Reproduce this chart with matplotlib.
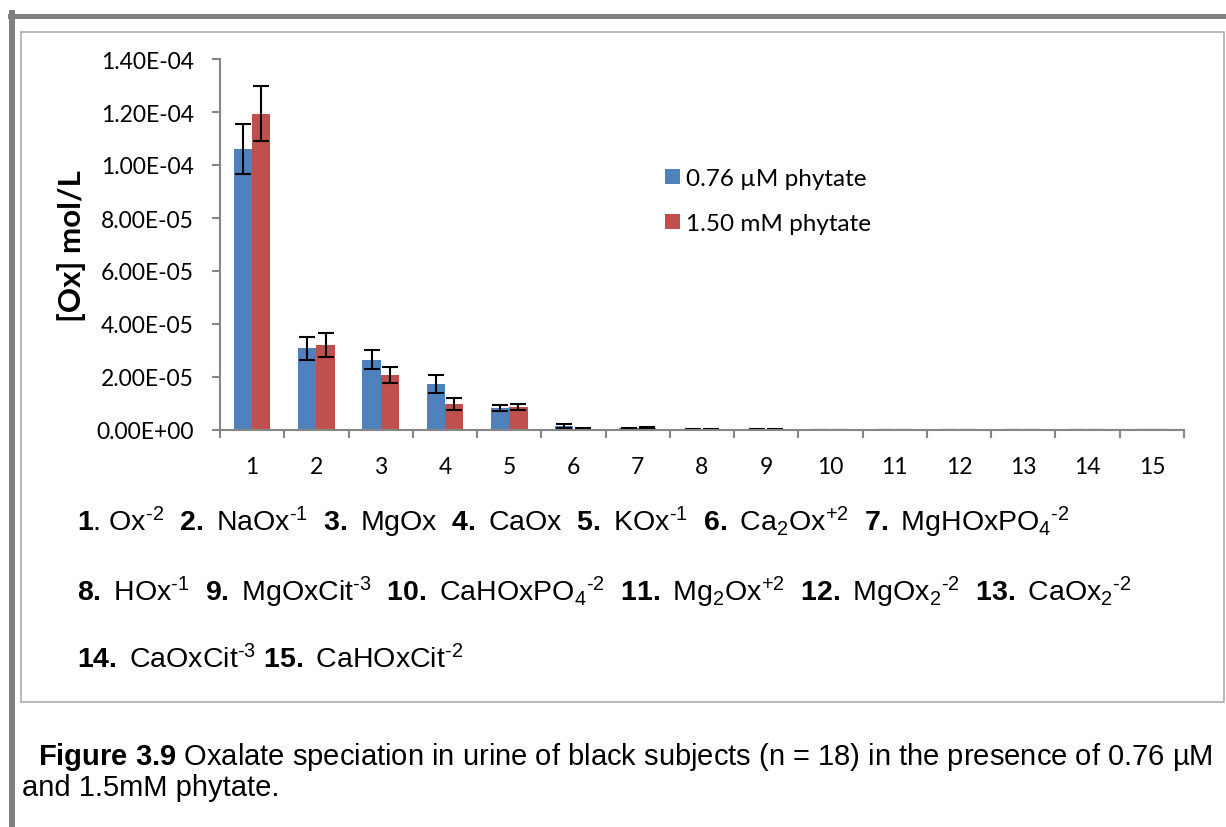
import matplotlib
matplotlib.use("Agg")
import matplotlib.pyplot as plt
import numpy as np
from matplotlib.lines import Line2D
from matplotlib.patches import Rectangle

# species index 1..15
species = [str(i) for i in range(1, 16)]

# 0.76 uM phytate
blue_vals = [1.06e-4, 3.08e-5, 2.66e-5, 1.73e-5, 8.3e-6, 1.5e-6, 6e-7, 2e-7,
             1.5e-7, 5e-8, 5e-8, 5e-8, 2e-8, 1e-8, 1e-8]
blue_err = [9.3e-6, 4.4e-6, 3.6e-6, 3.4e-6, 1.0e-6, 0.9e-6, 0.3e-6, 0.1e-6,
            0.1e-6, 0, 0, 0, 0, 0, 0]
# 1.50 mM phytate
red_vals = [1.194e-4, 3.2e-5, 2.06e-5, 9.8e-6, 8.7e-6, 4e-7, 8e-7, 2e-7,
            1.5e-7, 5e-8, 5e-8, 5e-8, 2e-8, 1e-8, 1e-8]
red_err = [1.03e-5, 4.6e-6, 3.0e-6, 2.2e-6, 1.0e-6, 0.4e-6, 0.3e-6, 0.1e-6,
           0.1e-6, 0, 0, 0, 0, 0, 0]

yticks = [0, 2e-5, 4e-5, 6e-5, 8e-5, 1e-4, 1.2e-4, 1.4e-4]
ytick_labels = ["0.00E+00", "2.00E-05", "4.00E-05", "6.00E-05", "8.00E-05",
                "1.00E-04", "1.20E-04", "1.40E-04"]

H_ = "\u2010"  # hyphen for charges
species_lines = [
    r"$\mathbf{1}$. Ox$^{%s2}$  $\mathbf{2.}$ NaOx$^{%s1}$  $\mathbf{3.}$ MgOx  $\mathbf{4.}$ CaOx  "
    r"$\mathbf{5.}$ KOx$^{%s1}$  $\mathbf{6.}$ Ca$_2$Ox$^{+2}$  $\mathbf{7.}$ MgHOxPO$_4$$^{%s2}$" % (H_, H_, H_, H_),
    r"$\mathbf{8.}$ HOx$^{%s1}$  $\mathbf{9.}$ MgOxCit$^{%s3}$  $\mathbf{10.}$ CaHOxPO$_4$$^{%s2}$  "
    r"$\mathbf{11.}$ Mg$_2$Ox$^{+2}$  $\mathbf{12.}$ MgOx$_2$$^{%s2}$  $\mathbf{13.}$ CaOx$_2$$^{%s2}$" % (H_, H_, H_, H_, H_),
    r"$\mathbf{14.}$ CaOxCit$^{%s3}$ $\mathbf{15.}$ CaHOxCit$^{%s2}$" % (H_, H_),
]

plt.rcParams["mathtext.fontset"] = "custom"
plt.rcParams["mathtext.rm"] = "Liberation Sans"
plt.rcParams["mathtext.bf"] = "Liberation Sans:bold"
plt.rcParams["mathtext.it"] = "Liberation Sans:italic"

W, H = 1226, 828
fig = plt.figure(figsize=(W / 100, H / 100), dpi=100)

def fx(px):
    return px / W

def fy(py):
    return 1 - py / H

# page borders
fig.add_artist(Line2D([fx(10), 1], [fy(16.5), fy(16.5)], color="#808080", lw=3.6))
fig.add_artist(Line2D([fx(12), fx(12)], [fy(14), 0], color="#808080", lw=4.3))
fig.add_artist(Rectangle((fx(21), fy(703)), fx(1224) - fx(21), fy(33) - fy(703),
                         transform=fig.transFigure, fill=False, ec="#a6a6a6", lw=1.1))

ax = fig.add_axes([fx(220), fy(431), fx(1184) - fx(220), fy(60) - fy(431)])

x = np.arange(len(species))
w = 0.285
ax.bar(x - w / 2, blue_vals, w, color="#4F81BD", label="0.76 \u00b5M phytate", zorder=1)
ax.bar(x + w / 2, red_vals, w, color="#C0504D", label="1.50 mM phytate", zorder=1)
ax.errorbar(x - w / 2, blue_vals, yerr=blue_err, fmt="none", ecolor="black",
            elinewidth=1.5, capsize=6, capthick=1.5, zorder=2)
ax.errorbar(x + w / 2, red_vals, yerr=red_err, fmt="none", ecolor="black",
            elinewidth=1.5, capsize=6, capthick=1.5, zorder=2)

tick_font = {"family": "Lato", "size": 16.5}
ax.set_xlim(-0.5, len(species) - 0.5)
ax.set_ylim(0, 1.4e-4)
ax.set_yticks(yticks)
ax.set_yticklabels(ytick_labels, **tick_font)
ax.set_xticks(x)
ax.set_xticklabels(species, **tick_font)
ax.set_xticks(np.arange(len(species) + 1) - 0.5, minor=True)
ax.tick_params(axis="x", which="major", length=0, pad=19)
ax.tick_params(axis="x", which="minor", length=6, width=1.5, color="#868686")
ax.tick_params(axis="y", length=6, width=1.5, color="#868686", pad=13)
for s in ["top", "right"]:
    ax.spines[s].set_visible(False)
for s in ["left", "bottom"]:
    ax.spines[s].set_color("#868686")
    ax.spines[s].set_linewidth(1.5)
    ax.spines[s].set_zorder(3)

fig.text(fx(72), fy(246), "[Ox] mol/L", rotation=90, ha="center", va="center",
         family="Lato", fontweight="bold", fontsize=22.5)

ax.legend(loc="upper left", bbox_to_anchor=(fx(665), fy(169)), bbox_transform=fig.transFigure,
          frameon=False, prop={"family": "Lato", "size": 17.5}, handlelength=0.6,
          handleheight=0.6, handletextpad=0.25, labelspacing=1.0, borderaxespad=0,
          borderpad=0)

ys = [522, 592, 660]
for yy, line in zip(ys, species_lines):
    fig.text(fx(77), fy(yy), line, ha="left", va="center", family="Liberation Sans", fontsize=20.5)

fig.text(fx(38), fy(757), r"$\mathbf{Figure\ 3.9}$ Oxalate speciation in urine of black subjects "
         "(n = 18) in the presence of 0.76 \u00b5M", ha="left", va="center",
         family="Liberation Sans", fontsize=21)
fig.text(fx(22), fy(788), "and 1.5mM phytate.", ha="left", va="center",
         family="Liberation Sans", fontsize=21)

fig.savefig("out.png", dpi=100)
